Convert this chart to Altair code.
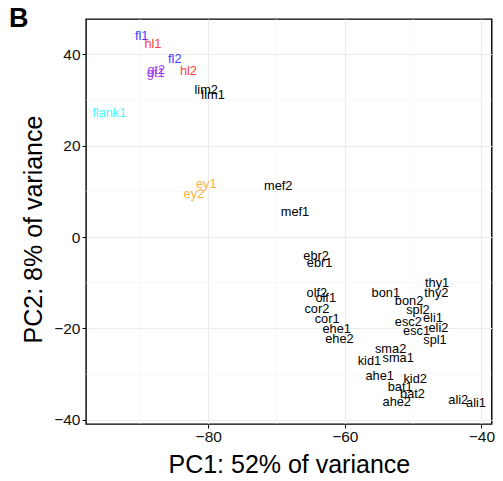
import altair as alt
import pandas as pd

labels = ["fl1", "hl1", "fl2", "hl2", "gt2", "gt1", "lim2", "lim1", "flank1",
          "ey1", "ey2", "mef2", "mef1",
          "ebr2", "ebr1", "olf2", "olf1", "cor2", "cor1", "ehe1", "ehe2",
          "bon1", "bon2", "thy1", "thy2", "spl2", "eli1", "esc2", "esc1", "eli2", "spl1",
          "sma2", "sma1", "kid1", "ahe1", "kid2", "bat1", "bat2", "ahe2", "ali2", "ali1"]
pc1 = [-89.75, -88.1, -84.9, -82.9, -87.6, -87.7, -80.3, -79.3, -94.5,
       -80.3, -82.1, -69.75, -67.3,
       -64.2, -63.7, -64.1, -62.8, -64.1, -62.6, -61.2, -60.8,
       -54.0, -50.6, -46.5, -46.6, -49.3, -47.1, -50.7, -49.5, -46.3, -46.8,
       -53.3, -52.2, -56.4, -54.9, -49.7, -51.9, -50.1, -52.4, -43.4, -40.8]
pc2 = [44.0, 42.2, 38.9, 36.4, 36.6, 35.9, 32.2, 31.1, 27.2,
       11.7, 9.5, 11.2, 5.57,
       -4.2, -5.6, -12.3, -13.4, -15.8, -17.9, -20.2, -22.2,
       -12.2, -14.0, -10.0, -12.2, -16.0, -17.8, -18.6, -20.6, -20.0, -22.5,
       -24.4, -26.4, -27.1, -30.5, -31.0, -32.7, -34.4, -36.0, -35.7, -36.4]
groups = ["fl", "hl", "fl", "hl", "gt", "gt", "other", "other", "flank",
          "ey", "ey"] + ["other"] * 30

group_domain = ["fl", "hl", "gt", "flank", "ey", "other"]
group_colors = ["#3B3BFF", "#FF4040", "#A040F0", "#40FFFF", "#FFB040", "#000000"]

x_minor = [-90, -70, -50]
y_minor = [30, 10, -10, -30]

df = pd.DataFrame({"label": labels, "pc1": pc1, "pc2": pc2, "group": groups})

FONT = "Liberation Sans"
xscale = alt.Scale(domain=[-97.9, -38.5], nice=False, zero=False)
yscale = alt.Scale(domain=[-40.9, 47.7], nice=False, zero=False)

axis_style = dict(
    domain=False, grid=True, gridColor="#EBEBEB", gridWidth=1,
    ticks=True, tickColor="black", tickSize=4, tickWidth=1,
    labelFont=FONT, labelFontSize=15.5, labelColor="#111111", labelPadding=2,
    titleFont=FONT, titleFontSize=25, titleFontWeight="normal", titleColor="black",
    titleBaseline="alphabetic",
)

xminor = alt.Chart(pd.DataFrame({"v": x_minor})).mark_rule(
    color="#F4F4F4", strokeWidth=0.6).encode(x=alt.X("v:Q", scale=xscale))
yminor = alt.Chart(pd.DataFrame({"v": y_minor})).mark_rule(
    color="#F4F4F4", strokeWidth=0.6).encode(y=alt.Y("v:Q", scale=yscale))

text = alt.Chart(df).mark_text(
    font=FONT, fontSize=12.8, align="center", baseline="middle"
).encode(
    x=alt.X("pc1:Q", scale=xscale,
            axis=alt.Axis(title="PC1: 52% of variance", values=[-80, -60, -40],
                          titleY=49, **axis_style)),
    y=alt.Y("pc2:Q", scale=yscale,
            axis=alt.Axis(title="PC2: 8% of variance", values=[-40, -20, 0, 20, 40],
                          titleX=-44.5, titleY=210, **axis_style)),
    color=alt.Color("group:N", scale=alt.Scale(domain=group_domain, range=group_colors),
                    legend=None),
    text="label:N",
)

panel_tag = alt.Chart(pd.DataFrame({"t": ["B"]})).mark_text(
    font=FONT, fontSize=27, fontWeight="bold", align="left", baseline="alphabetic",
    color="black"
).encode(x=alt.value(-77), y=alt.value(8), text="t:N")

chart = alt.layer(xminor, yminor, text, panel_tag).properties(
    width=405.7, height=405,
    autosize=alt.AutoSizeParams(type="none"),
    padding={"left": 86, "top": 19, "right": 11, "bottom": 57},
    background="white",
).configure_view(
    stroke="black", strokeWidth=1.4
)

chart.save("out.html", embed_options={"renderer": "svg", "actions": False})
